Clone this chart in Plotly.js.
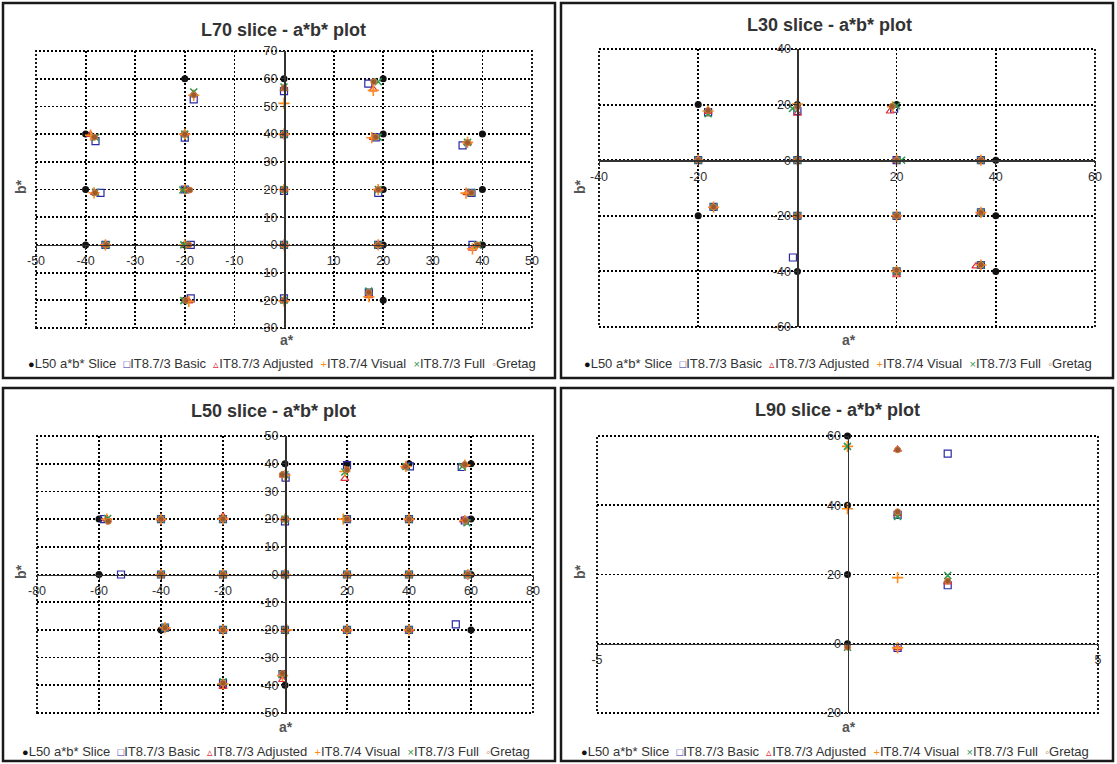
<!DOCTYPE html>
<html><head><meta charset="utf-8">
<script src="https://cdn.plot.ly/plotly-3.0.1.min.js"></script>
<style>html,body{margin:0;padding:0;background:#fff}#chart{width:1117px;height:764px}</style>
</head><body><div id="chart"></div>
<script>
// ---------------- DATA ----------------
const seriesNames = ['L50 a*b* Slice','IT8.7/3 Basic','IT8.7/3 Adjusted','IT8.7/4 Visual','IT8.7/3 Full','Gretag'];
const panelTitles = ['L70 slice - a*b* plot','L30 slice - a*b* plot','L50 slice - a*b* plot','L90 slice - a*b* plot'];

// L70 slice
const l70SliceA  = [-40,-40,-40,-20,-20,-20,-20,-20,0,0,0,0,0,20,20,20,20,20,40,40,40];
const l70SliceB  = [40,20,0,60,40,20,0,-20,60,40,20,0,-20,60,40,20,0,-20,40,20,0];
const l70BasicA  = [-38,-37,-36,-18.2,-20,-20,-18.8,-18.8,0,0,0,0,0,17,18.5,19,19,17.1,36,37.8,38];
const l70BasicB  = [37.5,18.8,0,52.5,38.7,20,0,-19.3,55.5,40,19.5,0,-19.3,58.2,38.8,18.8,0,-17.2,35.9,18.8,0];
const l70AdjA    = [-39,-38.2,-36,-18.2,-20,-20,-20,-19.2,0,0,0,0,0,18,18,19,19,17.1,37,36.9,38];
const l70AdjB    = [39.8,18.9,0,54.5,40,20,0,-20.3,56.3,40,20,0,-20,56.2,38.7,20,0,-18.4,36.9,18.8,-1.3];
const l70VisA    = [-39,-38.3,-36,-18.2,-20,-20,-20,-19.2,0,0,0,0,0,18,17.7,19,19,17.1,37,36.7,38];
const l70VisB    = [39.6,18.8,0,54,40,20,0,-20.4,51.1,40,20,0,-20.2,55.8,38.7,20,0,-18.7,37,18.7,-1.4];
const l70FullA   = [-38,-38,-35.8,-18.2,-20,-20.4,-20.2,-20.2,0,0,0,0,0,19,19,19,19,17.1,37,37.8,39];
const l70FullB   = [38.8,19,0,55.2,40,19.8,0,-20.1,57,40,20,0,-20,58.9,38.9,20,0,-16.7,37,18.9,0];
const l70GretagA = [-38.2,-38.1,-35.8,-18.2,-20,-19,-19.2,-19.8,0,0,0,0,0,18.1,18.5,19,19,17.1,37,37.8,39];
const l70GretagB = [38.9,18.8,0,54.1,39.9,19.8,0,-20,56.7,40,20,0,-20,58.9,38.9,20,0,-17.1,36.9,18.8,0];

// L30 slice
const l30SliceA  = [-20,-20,-20,0,0,0,0,20,20,20,20,40,40,40];
const l30SliceB  = [20,0,-20,20,0,-20,-40,20,0,-20,-40,0,-20,-40];
const l30BasicA  = [-18,-20,-16.9,0,0,0,-0.9,19.5,20,20,20,37,37,37];
const l30BasicB  = [17.3,0,-16.8,17.7,0,-20,-35,18.5,0,-20,-40,0,-18.8,-37.7];
const l30AdjA    = [-18,-20,-16.9,0,0,0,null,18.7,20,20,20,37,37,36];
const l30AdjB    = [17.5,0,-16.8,16.8,0,-20,null,17.6,0,-20,-41.3,0,-18.8,-38.1];
const l30VisA    = [-18,-20,-16.9,0,0,0,null,19.2,20,20,20,37,37,37];
const l30VisB    = [17.7,0,-16.9,20.2,0,-20,null,19.2,0,-20,-40,0,-18.8,-37.7];
const l30FullA   = [-18,-20,-16.9,-1,0,0,null,20,21,20,20,37,37,37];
const l30FullB   = [16.7,0,-16.8,18.6,0,-20,null,19.6,0,-20,-39.8,0,-18.8,-37.7];
const l30GretagA = [-18,-20,-16.9,0,0,0,null,19.1,20,20,20,37,37,37];
const l30GretagB = [17.9,0,-16.8,19.2,0,-20,null,19.4,0,-20,-39.5,0,-18.8,-37.6];

// L50 slice
const l50SliceA  = [-60,-60,-40,-40,-40,-20,-20,-20,-20,0,0,0,0,0,20,20,20,20,40,40,40,40,60,60,60,60];
const l50SliceB  = [20,0,20,0,-20,20,0,-20,-40,40,20,0,-20,-40,40,20,0,-20,40,20,0,-20,40,20,0,-20];
const l50BasicA  = [-58.4,-52.9,-40,-40,-38.7,-20,-20,-20,-20,0.2,0,0,0,-0.8,20,20,20,20,40.3,40,40,40,57,58,59,55.1];
const l50BasicB  = [20,0,20,0,-19.2,20,0,-20,-39.2,35,19.2,0,-20,-36,39.5,20,0,-20,39,20,0,-20,38.8,19.5,0,-18];
const l50AdjA    = [-57.5,null,-40,-40,-38.5,-20,-20,-20,-20,-0.5,0,0,0,-0.8,19.3,20,20,20,38.9,40,40,40,58,57.6,59,null];
const l50AdjB    = [20,null,20,0,-19.3,21,0,-20,-40.5,35.8,20,0,-20,-38,34.6,20,0,-20,39,20,0,-20,39.7,19.6,0,null];
const l50VisA    = [-57.5,null,-40,-40,-38.7,-20,-20,-20,-20,0,0,0,0.6,-0.8,19.3,18.8,20,20,39,40,40,40,58,58,59,null];
const l50VisB    = [20,null,20,0,-19.2,20,0,-20,-39.5,35.8,20,0,-20,-36.5,37.2,20,0,-20,39,20,0,-20,39.5,19.5,0,null];
const l50FullA   = [-57.2,null,-40,-40,-38.7,-20,-20,-20,-20,0,0,0,0,-0.8,19.3,20,20,20,39,40,40,40,57.2,58.7,59,null];
const l50FullB   = [20.2,null,20,0,-19.2,20,0,-20,-38.7,36,20,0,-20,-36,37,20,0,-20,39,20,0,-20,39,18.7,0,null];
const l50GretagA = [-57,null,-40,-40,-38.7,-20,-20,-20,-20,-0.9,0,0,0,-0.8,20,20,20,20,38.9,40,40,40,58,58.2,59,null];
const l50GretagB = [19.2,null,20,0,-19.2,20,0,-20,-39.2,36,20,0,-20,-35.7,37.8,20,0,-20,39,20,0,-20,39.7,19.5,0,null];

// L90 slice
const l90SliceA  = [0,0,0,0];
const l90SliceB  = [60,40,20,0];
const l90BasicA  = [2,1,2,1];
const l90BasicB  = [54.9,37.2,16.9,-1.2];
const l90AdjA    = [1,1,2,1];
const l90AdjB    = [56.1,37.5,17.8,-1.2];
const l90VisA    = [0,0,1,1];
const l90VisB    = [57,39,19.1,-1.2];
const l90FullA   = [0,1,2,0];
const l90FullB   = [57,36.8,19.7,-1];
const l90GretagA = [1,1,2,0];
const l90GretagB = [56,38.1,18.1,-1];

// axis tick labels
const l70XTicks = [-50,-40,-30,-20,-10,10,20,30,40,50];
const l70YTicks = [-30,-20,-10,0,10,20,30,40,50,60,70];
const l30XTicks = [-40,-20,20,40,60];
const l30YTicks = [-60,-40,-20,0,20,40];
const l50XTicks = [-80,-60,-40,-20,20,40,60,80];
const l50YTicks = [-50,-40,-30,-20,-10,0,10,20,30,40,50];
const l90XTicks = [-5,5];
const l90YTicks = [-20,0,20,40,60];

// ---------------- BUILD ----------------
const W = 1117, H = 764;
const FONT = 'Liberation Sans, Arial, sans-serif';
const markerStyles = [
  {symbol:'circle', size:7, color:'#111111'},
  {symbol:'square-open', size:7, color:'#2a2aa8', line:{width:1.2}},
  {symbol:'triangle-up-open', size:7, color:'#e0303a', line:{width:1.2}},
  {symbol:'cross-thin-open', size:8, color:'#ff8c1a', line:{width:1.6, color:'#ff8c1a'}},
  {symbol:'x-thin-open', size:7, color:'#2e9a50', line:{width:1.6, color:'#2e9a50'}},
  {symbol:'circle', size:6, color:'#9c5a2c', line:{width:1, color:'#d07a40'}}
];
const legendGlyphs = ['\u25CF','\u25A1','\u25B5','+','\u00D7','\u25E6'];
const legendColors = ['#111111','#2a2aa8','#e0303a','#ff8c1a','#2e9a50','#c0703a'];
const GRID_DASH = '2px,2px';
const GRID_W = 1.8;

const panels = [
  {data:[[l70SliceA,l70SliceB],[l70BasicA,l70BasicB],[l70AdjA,l70AdjB],[l70VisA,l70VisB],[l70FullA,l70FullB],[l70GretagA,l70GretagB]],
   xr:[-50,50], yr:[-30,70], xt:l70XTicks, yt:l70YTicks,
   plot:[36,51,532,328], box:[3,3,555,378], title:[283,30], ax:[287,340], bx:[21,187], leg:[282,363]},
  {data:[[l30SliceA,l30SliceB],[l30BasicA,l30BasicB],[l30AdjA,l30AdjB],[l30VisA,l30VisB],[l30FullA,l30FullB],[l30GretagA,l30GretagB]],
   xr:[-40,60], yr:[-60,40], xt:l30XTicks, yt:l30YTicks,
   plot:[599,49,1095,327], box:[561,3,1113,378], title:[829,25], ax:[849,340], bx:[580,187], leg:[838,363]},
  {data:[[l50SliceA,l50SliceB],[l50BasicA,l50BasicB],[l50AdjA,l50AdjB],[l50VisA,l50VisB],[l50FullA,l50FullB],[l50GretagA,l50GretagB]],
   xr:[-80,80], yr:[-50,50], xt:l50XTicks, yt:l50YTicks,
   plot:[37,436,533,713], box:[3,388,555,761], title:[273,411], ax:[286,727], bx:[21,572], leg:[276,751]},
  {data:[[l90SliceA,l90SliceB],[l90BasicA,l90BasicB],[l90AdjA,l90AdjB],[l90VisA,l90VisB],[l90FullA,l90FullB],[l90GretagA,l90GretagB]],
   xr:[-5,5], yr:[-20,60], xt:l90XTicks, yt:l90YTicks,
   plot:[597,436,1098,713], box:[561,388,1113,761], title:[837,410], ax:[849,727], bx:[580,572], leg:[835,751]}
];

const px = x => x / W;
const py = y => 1 - y / H;

const traces = [];
const layout = {
  width: W, height: H, autosize: false,
  margin: {l:0, r:0, t:0, b:0, pad:0},
  paper_bgcolor: '#ffffff', plot_bgcolor: '#ffffff',
  showlegend: false,
  font: {family: FONT, color: '#333'},
  shapes: [], annotations: []
};

panels.forEach((p, k) => {
  const n = k === 0 ? '' : String(k + 1);
  const [x0, y0, x1, y1] = p.plot;
  const xd = [px(x0), px(x1)], yd = [py(y1), py(y0)];
  const xZeroPos = yd[0] + (0 - p.yr[0]) / (p.yr[1] - p.yr[0]) * (yd[1] - yd[0]);
  const yZeroPos = xd[0] + (0 - p.xr[0]) / (p.xr[1] - p.xr[0]) * (xd[1] - xd[0]);
  const axCommon = {
    showgrid: true, gridcolor: '#000', gridwidth: GRID_W, griddash: GRID_DASH,
    zeroline: false, showline: true, linecolor: '#333', linewidth: 1.5,
    ticks: 'outside', ticklen: 4, tickwidth: 1, tickcolor: '#333',
    tickfont: {family: FONT, size: 12.5, color: '#333'},
    tickmode: 'array', fixedrange: true, anchor: 'free', layer: 'above traces'
  };
  layout['xaxis' + n] = Object.assign({}, axCommon, {
    domain: xd, range: p.xr, tickvals: p.xt, ticktext: p.xt.map(String), position: xZeroPos
  });
  layout['yaxis' + n] = Object.assign({}, axCommon, {
    domain: yd, range: p.yr, tickvals: p.yt, ticktext: p.yt.map(String), position: yZeroPos
  });
  p.data.forEach((s, i) => {
    traces.push({
      type: 'scatter', mode: 'markers', name: seriesNames[i],
      x: s[0], y: s[1], xaxis: 'x' + n, yaxis: 'y' + n,
      marker: markerStyles[i], cliponaxis: false, hoverinfo: 'x+y+name'
    });
  });
  // dotted plot-area border (gridlines at the range ends)
  layout.shapes.push({type:'rect', xref:'x' + n + ' domain', yref:'y' + n + ' domain', x0:0, x1:1, y0:0, y1:1,
    line:{color:'#000', width:GRID_W, dash:GRID_DASH}, fillcolor:'rgba(0,0,0,0)', layer:'below'});
  // panel frame
  const [bx0, by0, bx1, by1] = p.box;
  layout.shapes.push({type:'rect', xref:'paper', yref:'paper', x0:px(bx0), x1:px(bx1), y0:py(by1), y1:py(by0),
    line:{color:'#1a1a1a', width:2.5}, fillcolor:'rgba(0,0,0,0)'});
  // title
  layout.annotations.push({xref:'paper', yref:'paper', x:px(p.title[0]), y:py(p.title[1]), xanchor:'center', yanchor:'middle',
    text:'<b>' + panelTitles[k] + '</b>', showarrow:false, font:{family:FONT, size:18, color:'#333'}});
  // axis titles
  layout.annotations.push({xref:'paper', yref:'paper', x:px(p.ax[0]), y:py(p.ax[1]), xanchor:'center', yanchor:'middle',
    text:'<b>a*</b>', showarrow:false, font:{family:FONT, size:14, color:'#555'}});
  layout.annotations.push({xref:'paper', yref:'paper', x:px(p.bx[0]), y:py(p.bx[1]), xanchor:'center', yanchor:'middle',
    text:'<b>b*</b>', textangle:-90, showarrow:false, font:{family:FONT, size:14, color:'#555'}});
  // legend line
  const legText = seriesNames.map((nm, i) =>
    '<span style="color:' + legendColors[i] + ';font-size:11px">' + legendGlyphs[i] + '</span>' +
    '<span style="color:#333">' + nm + '</span>'
  ).join('\u00a0\u00a0');
  layout.annotations.push({xref:'paper', yref:'paper', x:px(p.leg[0]), y:py(p.leg[1]), xanchor:'center', yanchor:'middle',
    text:legText, showarrow:false, font:{family:FONT, size:13, color:'#333'}});
});

Plotly.newPlot('chart', traces, layout, {displayModeBar:false, staticPlot:true});
</script>
</body></html>
